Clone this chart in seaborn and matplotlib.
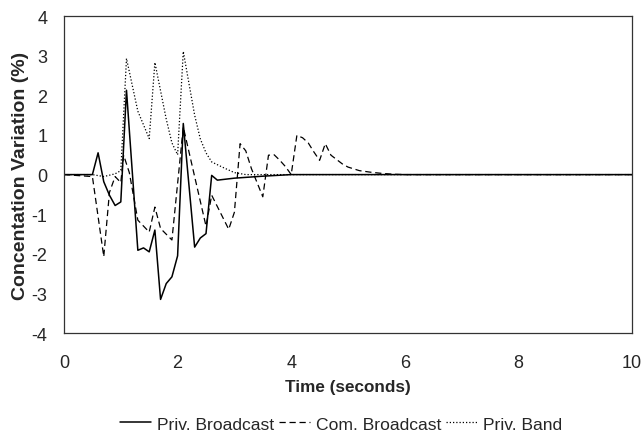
import matplotlib
matplotlib.use("Agg")
import matplotlib.pyplot as plt
import seaborn as sns
import pandas as pd

# Concentration variation traces (time in seconds, variation in %)
t_priv_broadcast = [0, 0.5, 0.6, 0.7, 0.8, 0.9, 1.0, 1.1, 1.3, 1.4, 1.5, 1.6, 1.7, 1.8,
                    1.9, 2.0, 2.1, 2.3, 2.4, 2.5, 2.6, 2.7, 3.0, 3.5, 4.0, 10]
v_priv_broadcast = [0, 0, 0.55, -0.18, -0.52, -0.78, -0.69, 2.13, -1.91, -1.85, -1.95, -1.4,
                    -3.15, -2.75, -2.58, -2.05, 1.29, -1.83, -1.6, -1.49, -0.02, -0.14,
                    -0.09, -0.04, 0, 0]

t_com_broadcast = [0, 0.5, 0.7, 0.8, 0.9, 1.0, 1.05, 1.15, 1.3, 1.5, 1.6, 1.7, 1.9, 2.1,
                   2.5, 2.6, 2.9, 3.0, 3.1, 3.2, 3.3, 3.5, 3.6, 3.7, 3.8, 3.9, 4.0, 4.1,
                   4.2, 4.3, 4.4, 4.5, 4.6, 4.7, 4.8, 4.9, 5.0, 5.2, 5.4, 5.6, 5.8, 6.0, 10]
v_com_broadcast = [0, -0.05, -2.07, -0.45, -0.05, -0.2, 0.49, 0.05, -1.15, -1.45, -0.82,
                   -1.36, -1.65, 1.2, -1.3, -0.52, -1.38, -0.95, 0.78, 0.6, 0.15, -0.56,
                   0.49, 0.5, 0.36, 0.2, 0.0, 0.99, 0.93, 0.8, 0.57, 0.36, 0.78, 0.49,
                   0.38, 0.27, 0.19, 0.1, 0.06, 0.03, 0.01, 0, 0]

t_priv_band = [0, 0.5, 0.7, 0.9, 1.0, 1.1, 1.3, 1.5, 1.6, 1.8, 1.9, 2.0, 2.1, 2.2, 2.3,
               2.4, 2.5, 2.6, 2.8, 3.0, 3.2, 10]
v_priv_band = [0, 0, -0.05, 0.02, 0.1, 2.93, 1.6, 0.91, 2.83, 1.4, 0.8, 0.5, 3.11, 2.3,
               1.5, 0.9, 0.55, 0.32, 0.18, 0.05, 0, 0]

series_names = ["Priv. Broadcast", "Com. Broadcast", "Priv. Band"]

frames = []
for name, t, v in zip(series_names,
                      [t_priv_broadcast, t_com_broadcast, t_priv_band],
                      [v_priv_broadcast, v_com_broadcast, v_priv_band]):
    frames.append(pd.DataFrame({"time": t, "value": v, "series": name}))
df = pd.concat(frames, ignore_index=True)

sns.set_style("white")
plt.rcParams["font.family"] = ["Liberation Sans", "DejaVu Sans"]
plt.rcParams["axes.unicode_minus"] = False

fig = plt.figure(figsize=(6.42, 4.39), dpi=100)
ax = fig.add_axes([0.0997, 0.239, 0.8847, 0.722])

line_styles = {"Priv. Broadcast": "-", "Com. Broadcast": (0, (5, 3)),
               "Priv. Band": (0, (1, 1.6))}
line_widths = {"Priv. Broadcast": 1.1, "Com. Broadcast": 0.9, "Priv. Band": 0.9}
for name in series_names:
    sub = df[df["series"] == name]
    sns.lineplot(data=sub, x="time", y="value", ax=ax, color="black",
                 linewidth=line_widths[name], linestyle=line_styles[name], label=name,
                 estimator=None, sort=False)

ax.set_xlim(0, 10)
ax.set_ylim(-4, 4)
ax.set_xticks([0, 2, 4, 6, 8, 10])
ax.set_yticks(range(-4, 5))
ax.tick_params(axis="both", labelsize=13, length=3, width=0.8, color="#333333",
               direction="out")
ax.tick_params(axis="x", pad=12)
ax.tick_params(axis="y", pad=9)
ax.set_xlabel("Time (seconds)", fontsize=12.3, fontweight="bold", labelpad=6)
ax.set_ylabel("Concentation Variation (%)", fontsize=14, fontweight="bold", labelpad=2)

for sp in ax.spines.values():
    sp.set_visible(True)
    sp.set_color("#333333")
    sp.set_linewidth(0.9)

ax.get_legend().remove()
handles, labels = ax.get_legend_handles_labels()
fig.legend(handles, labels, loc="center", bbox_to_anchor=(341 / 642, 0.032), ncol=3,
           frameon=False, fontsize=12.6, handlelength=1.8, handletextpad=0.3,
           columnspacing=0.3)

fig.savefig("out.png", dpi=100)
